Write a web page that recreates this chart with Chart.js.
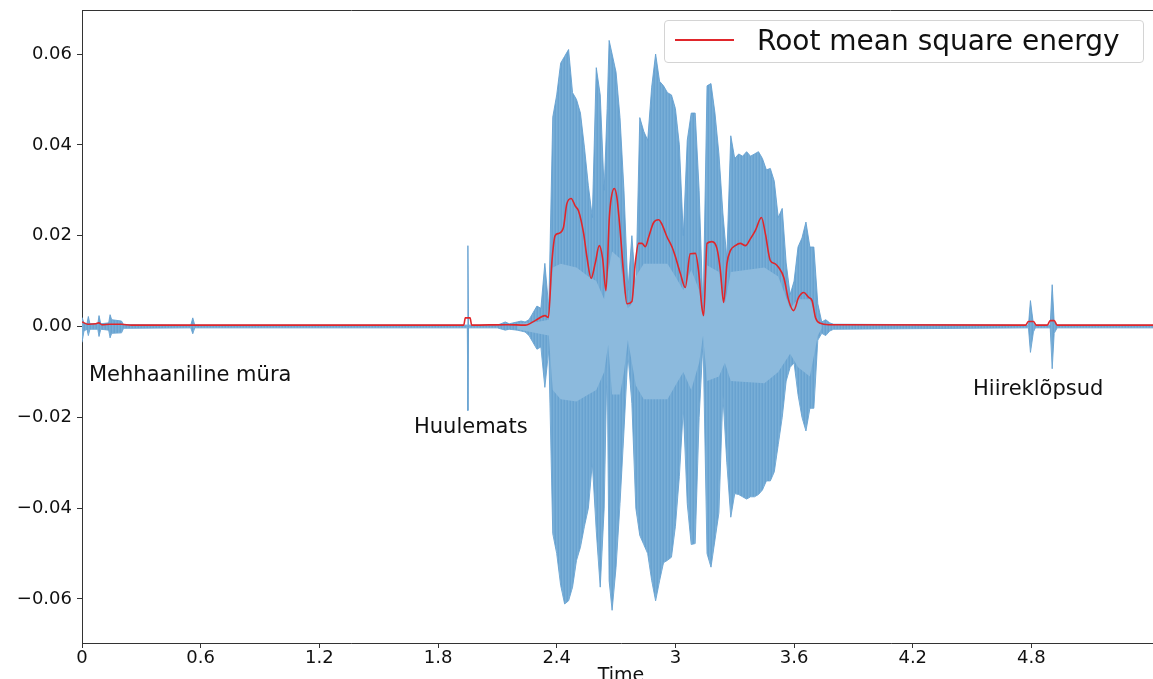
<!DOCTYPE html>
<html>
<head>
<meta charset="utf-8">
<script src="https://cdn.jsdelivr.net/npm/chart.js@4"></script>
<style>
  html, body { margin: 0; padding: 0; background: #fff; overflow: hidden; }
  #wrap { position: relative; width: 1153px; height: 679px; overflow: hidden; }
  canvas { position: absolute; left: 0; top: 0; }
  .note { position: absolute; font-family: "DejaVu Sans", sans-serif; font-size: 21px; line-height: 21px; color: #111; white-space: nowrap; }
  #legend { position: absolute; left: 664px; top: 20px; width: 478px; height: 41px; border: 1px solid #d4d4d4; border-radius: 4px; background: rgba(255,255,255,0.85); }
  #legend .swatch { position: absolute; left: 10px; top: 18px; width: 59px; height: 2px; background: #e0262b; }
  #legend .label { position: absolute; left: 92px; top: 6px; font-family: "DejaVu Sans", sans-serif; font-size: 28px; line-height: 28px; color: #111; white-space: nowrap; }
</style>
</head>
<body>
<div id="wrap">
  <canvas id="waveChart" width="1160" height="679"></canvas>
  <div class="note" style="left:89px; top:364px;">Mehhaaniline müra</div>
  <div class="note" style="left:414px; top:416px;">Huulemats</div>
  <div class="note" style="left:973px; top:378px;">Hiireklõpsud</div>
  <div id="legend"><div class="swatch"></div><div class="label">Root mean square energy</div></div>
</div>
<script>
// waveform envelope (seconds, amplitude)
var waveTimes = [0, 0.01, 0.025, 0.032, 0.04, 0.08, 0.086, 0.095, 0.135, 0.142, 0.15, 0.2, 0.21,
  0.55, 0.56, 0.57, 1.948, 1.951, 1.954, 2.1, 2.14, 2.16,
  2.20, 2.22, 2.24, 2.26, 2.28, 2.30, 2.32, 2.34, 2.36, 2.38, 2.40, 2.42, 2.44, 2.46, 2.48, 2.50,
  2.52, 2.54, 2.56, 2.58, 2.60, 2.62, 2.64, 2.655, 2.665, 2.68, 2.70, 2.72, 2.74, 2.76, 2.78, 2.80,
  2.82, 2.84, 2.86, 2.88, 2.90, 2.92, 2.94, 2.96, 2.98, 3.00, 3.02, 3.04, 3.06, 3.08, 3.10,
  3.12, 3.14, 3.16, 3.18, 3.20, 3.22, 3.24, 3.26, 3.28, 3.30, 3.32, 3.34, 3.36, 3.38, 3.40,
  3.42, 3.44, 3.46, 3.48, 3.50, 3.52, 3.54, 3.56, 3.58, 3.60, 3.62, 3.64, 3.66, 3.68, 3.70,
  3.72, 3.74, 3.76, 3.78, 3.80,
  4.785, 4.795, 4.81, 4.82, 4.895, 4.905, 4.915, 4.93, 5.45];

var waveUpper = [0.0020, 0.0008, 0.0006, 0.0022, 0.0006, 0.0006, 0.0024, 0.0006, 0.0008, 0.0026, 0.0015, 0.0012, 0.0004,
  0.0003, 0.0019, 0.0003, 0.0003, 0.0178, 0.0003, 0.0003, 0.0010, 0.0006,
  0.0010, 0.0012, 0.0010, 0.0015, 0.0030, 0.0045, 0.0040, 0.0139, 0.0040, 0.0461, 0.0510, 0.0580, 0.0595, 0.0610, 0.0515, 0.0500,
  0.0470, 0.0395, 0.0310, 0.0240, 0.0570, 0.0510, 0.0300, 0.0480, 0.0630, 0.0600, 0.0560, 0.0460, 0.0300, 0.0080, 0.0200, 0.0080,
  0.0460, 0.0430, 0.0410, 0.0527, 0.0600, 0.0540, 0.0530, 0.0515, 0.0510, 0.0480, 0.0400, 0.0200, 0.0410, 0.0470, 0.0470,
  0.0300, 0.0030, 0.0530, 0.0535, 0.0470, 0.0380, 0.0250, 0.0150, 0.0420, 0.0370, 0.0380, 0.0375, 0.0385, 0.0375, 0.0380,
  0.0385, 0.0370, 0.0345, 0.0348, 0.0320, 0.0240, 0.0260, 0.0140, 0.0070, 0.0100, 0.0175, 0.0195, 0.0230, 0.0175, 0.0175,
  0.0050, 0.0010, 0.0015, 0.0008, 0.0005,
  0.0003, 0.0057, 0.0005, 0.0003, 0.0003, 0.0092, 0.0010, 0.0003, 0.0003];

var waveLower = [-0.0035, -0.0010, -0.0006, -0.0020, -0.0006, -0.0006, -0.0022, -0.0006, -0.0008, -0.0025, -0.0015, -0.0014, -0.0004,
  -0.0003, -0.0016, -0.0003, -0.0003, -0.0185, -0.0003, -0.0003, -0.0008, -0.0006,
  -0.0008, -0.0010, -0.0012, -0.0020, -0.0035, -0.0050, -0.0045, -0.0134, -0.0050, -0.0456, -0.0500, -0.0570, -0.0611, -0.0604, -0.0574, -0.0515,
  -0.0486, -0.0440, -0.0400, -0.0300, -0.0450, -0.0574, -0.0400, -0.0060, -0.0560, -0.0625, -0.0530, -0.0390, -0.0230, -0.0060, -0.0170, -0.0400,
  -0.0460, -0.0480, -0.0500, -0.0559, -0.0604, -0.0560, -0.0520, -0.0515, -0.0508, -0.0440, -0.0330, -0.0180, -0.0390, -0.0480, -0.0478,
  -0.0200, -0.0030, -0.0500, -0.0530, -0.0470, -0.0410, -0.0150, -0.0300, -0.0420, -0.0368, -0.0370, -0.0375, -0.0380, -0.0375, -0.0375,
  -0.0370, -0.0360, -0.0340, -0.0340, -0.0320, -0.0260, -0.0200, -0.0120, -0.0090, -0.0080, -0.0150, -0.0200, -0.0230, -0.0180, -0.0180,
  -0.0030, -0.0015, -0.0020, -0.0010, -0.0006,
  -0.0003, -0.0057, -0.0012, -0.0003, -0.0003, -0.0093, -0.0015, -0.0003, -0.0003];

// dense core of the waveform
var innerTimes = [2.20, 2.30, 2.36, 2.38, 2.42, 2.50, 2.56, 2.60, 2.64, 2.66, 2.68, 2.72, 2.74, 2.76, 2.78, 2.80,
  2.84, 2.96, 3.00, 3.04, 3.08, 3.12, 3.14, 3.16, 3.22, 3.25, 3.28, 3.45, 3.52, 3.58, 3.62, 3.68, 3.72, 3.74];
var innerUpper = [0.0006, 0.0010, 0.0015, 0.0130, 0.0138, 0.0130, 0.0110, 0.0100, 0.0060, 0.0120, 0.0165, 0.0150, 0.0080, 0.0040, 0.0050, 0.0110,
  0.0138, 0.0138, 0.0110, 0.0080, 0.0125, 0.0080, 0.0020, 0.0135, 0.0120, 0.0050, 0.0120, 0.0130, 0.0110, 0.0040, 0.0060, 0.0060, 0.0010, 0.0004];
var innerLower = [-0.0006, -0.0015, -0.0020, -0.0140, -0.0160, -0.0165, -0.0150, -0.0140, -0.0100, -0.0040, -0.0150, -0.0150, -0.0100, -0.0030, -0.0080, -0.0130,
  -0.0160, -0.0160, -0.0130, -0.0100, -0.0140, -0.0080, -0.0020, -0.0120, -0.0110, -0.0080, -0.0120, -0.0125, -0.0100, -0.0060, -0.0090, -0.0110, -0.0020, -0.0004];

// root mean square energy
var rmsTimes = [0, 0.03, 0.07, 0.085, 0.10, 0.14, 0.20, 0.25, 1.93, 1.938, 1.962, 1.97, 2.15,
  2.241, 2.291, 2.341, 2.358, 2.375, 2.392, 2.409, 2.434, 2.451, 2.473, 2.494, 2.510, 2.536, 2.553, 2.574,
  2.595, 2.615, 2.632, 2.649, 2.666, 2.676, 2.691, 2.704, 2.721, 2.738, 2.755, 2.780, 2.797, 2.814, 2.831,
  2.848, 2.865, 2.890, 2.915, 2.932, 2.958, 2.983, 2.999, 3.025, 3.050, 3.075, 3.101, 3.117, 3.134, 3.143,
  3.160, 3.185, 3.210, 3.227, 3.244, 3.261, 3.278, 3.303, 3.328, 3.354, 3.379, 3.404, 3.435, 3.455, 3.480,
  3.505, 3.522, 3.548, 3.573, 3.598, 3.623, 3.649, 3.674, 3.691, 3.708, 3.733, 3.775,
  4.77, 4.785, 4.81, 4.825, 4.88, 4.895, 4.915, 4.93, 5.45];
var rmsValues = [0.0010, 0.0005, 0.0006, 0.0008, 0.0004, 0.0005, 0.0005, 0.0003, 0.0003, 0.0019, 0.0019, 0.0003, 0.0004,
  0.0003, 0.0013, 0.0024, 0.0020, 0.0139, 0.0200, 0.0205, 0.0218, 0.0270, 0.0282, 0.0265, 0.0255, 0.0205, 0.0152, 0.0106,
  0.0140, 0.0178, 0.0150, 0.0079, 0.0240, 0.0284, 0.0304, 0.0285, 0.0210, 0.0117, 0.0050, 0.0055, 0.0139, 0.0183, 0.0183,
  0.0176, 0.0197, 0.0229, 0.0235, 0.0225, 0.0197, 0.0175, 0.0155, 0.0117, 0.0086, 0.0160, 0.0161, 0.0123, 0.0042, 0.0024,
  0.0183, 0.0187, 0.0172, 0.0125, 0.0053, 0.0139, 0.0167, 0.0178, 0.0183, 0.0178, 0.0193, 0.0211, 0.0240, 0.0204, 0.0145,
  0.0138, 0.0130, 0.0108, 0.0057, 0.0035, 0.0064, 0.0075, 0.0064, 0.0057, 0.0020, 0.0007, 0.0004,
  0.0003, 0.0011, 0.0011, 0.0003, 0.0003, 0.0013, 0.0013, 0.0003, 0.0003];

var xTicks = [0, 0.6, 1.2, 1.8, 2.4, 3, 3.6, 4.2, 4.8];
var yTicks = [-0.06, -0.04, -0.02, 0, 0.02, 0.04, 0.06];

function pairs(xs, ys) {
  return xs.map(function(x, i) { return {x: x, y: ys[i]}; });
}

// thin vertical streaks, like the dense sample lines of a waveplot
function streaks() {
  var c = document.createElement('canvas');
  c.width = 3; c.height = 4;
  var g = c.getContext('2d');
  g.fillStyle = 'rgb(104,162,208)'; g.fillRect(0, 0, 1, 4);
  g.fillStyle = 'rgb(120,174,215)'; g.fillRect(1, 0, 1, 4);
  g.fillStyle = 'rgb(112,168,211)'; g.fillRect(2, 0, 1, 4);
  return g.createPattern(c, 'repeat');
}

var ctx = document.getElementById('waveChart');

var topSpine = {
  id: 'topSpine',
  afterDraw: function(chart) {
    var a = chart.chartArea, c = chart.ctx;
    c.save();
    c.strokeStyle = '#333';
    c.lineWidth = 1;
    c.beginPath();
    c.moveTo(a.left, a.top + 0.5);
    c.lineTo(a.right, a.top + 0.5);
    c.stroke();
    c.restore();
  }
};

var waveChart = new Chart(ctx, {
  type: 'line',
  data: {
    datasets: [
      {
        label: 'wave upper',
        data: pairs(waveTimes, waveUpper),
        borderColor: 'rgba(100,160,208,0.9)',
        borderWidth: 1,
        backgroundColor: streaks(),
        fill: '+1',
        pointRadius: 0,
        order: 3
      },
      {
        label: 'wave lower',
        data: pairs(waveTimes, waveLower),
        borderColor: 'rgba(100,160,208,0.9)',
        borderWidth: 1,
        fill: false,
        pointRadius: 0,
        order: 3
      },
      {
        label: 'inner upper',
        data: pairs(innerTimes, innerUpper),
        borderWidth: 0,
        borderColor: 'rgba(0,0,0,0)',
        backgroundColor: 'rgb(140,186,221)',
        fill: '+1',
        pointRadius: 0,
        order: 2
      },
      {
        label: 'inner lower',
        data: pairs(innerTimes, innerLower),
        borderWidth: 0,
        borderColor: 'rgba(0,0,0,0)',
        fill: false,
        pointRadius: 0,
        order: 2
      },
      {
        label: 'Root mean square energy',
        data: pairs(rmsTimes, rmsValues),
        borderColor: '#e0262b',
        borderWidth: 1.6,
        fill: false,
        pointRadius: 0,
        cubicInterpolationMode: 'monotone',
        order: 1
      }
    ]
  },
  options: {
    responsive: false,
    animation: false,
    devicePixelRatio: 1,
    layout: { padding: { top: 10, right: 0, left: 0, bottom: 0 } },
    plugins: {
      legend: { display: false },
      tooltip: { enabled: false }
    },
    scales: {
      x: {
        type: 'linear',
        min: 0,
        max: 5.45,
        afterFit: function(scale) {
          scale.height = 36;
          scale.paddingLeft = 0;
          scale.paddingRight = 0;
        },
        afterBuildTicks: function(scale) {
          scale.ticks = xTicks.map(function(v) { return {value: v}; });
        },
        grid: { drawOnChartArea: false, tickLength: 5, tickColor: '#333' },
        border: { color: '#333', width: 1 },
        ticks: {
          padding: 0,
          color: '#111',
          maxRotation: 0,
          font: { family: 'DejaVu Sans', size: 18 },
          callback: function(v) { return String(Math.round(v * 10) / 10); }
        },
        title: {
          display: true,
          text: 'Time',
          color: '#111',
          font: { family: 'DejaVu Sans', size: 19 },
          padding: { top: 0, bottom: -8 }
        }
      },
      y: {
        min: -0.0697,
        max: 0.0697,
        afterFit: function(scale) {
          scale.width = 82;
          scale.paddingTop = 0;
          scale.paddingBottom = 0;
        },
        afterBuildTicks: function(scale) {
          scale.ticks = yTicks.map(function(v) { return {value: v}; });
        },
        grid: { drawOnChartArea: false, tickLength: 5, tickColor: '#333' },
        border: { color: '#333', width: 1 },
        ticks: {
          padding: 5,
          color: '#111',
          font: { family: 'DejaVu Sans', size: 18 },
          callback: function(v) { return v.toFixed(2).replace('-', '\u2212'); }
        }
      }
    }
  },
  plugins: [topSpine]
});
</script>
</body>
</html>
